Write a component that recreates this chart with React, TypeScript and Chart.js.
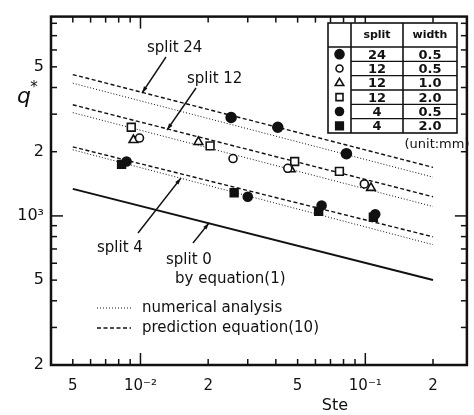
import React, { useEffect, useRef } from 'react';
import { Chart, registerables } from 'chart.js';

Chart.register(...registerables);

// ---- data ----
const lineSte = [0.005, 0.2];
const split24Prediction = [4600, 1690];
const split24Numerical = [4190, 1520];
const split12Prediction = [3320, 1230];
const split12Numerical = [3050, 1107];
const split4Prediction = [2108, 798];
const split4Numerical = [2042, 733];
const split0Equation1 = [1339, 501];

const s24w05Ste = [0.0253, 0.0408, 0.0824];
const s24w05Q = [2894, 2604, 1958];
const s12w05Ste = [0.0099, 0.0258, 0.0452, 0.099];
const s12w05Q = [2318, 1858, 1672, 1412];
const s12w10Ste = [0.0093, 0.0181, 0.0466, 0.106];
const s12w10Q = [2270, 2222, 1654, 1353];
const s12w20Ste = [0.0091, 0.0204, 0.0485, 0.0767];
const s12w20Q = [2604, 2130, 1800, 1618];
const s4w05Ste = [0.00867, 0.03, 0.0639, 0.1107];
const s4w05Q = [1800, 1230, 1119, 1017];
const s4w20Ste = [0.00824, 0.0261, 0.062, 0.1086];
const s4w20Q = [1744, 1284, 1050, 986];

const xTickValues = [0.004, 0.005, 0.006, 0.007, 0.008, 0.009, 0.01, 0.02, 0.03, 0.04, 0.05, 0.06, 0.07, 0.08, 0.09, 0.1, 0.2];
const xTickLabelValues = [0.005, 0.01, 0.02, 0.05, 0.1, 0.2];
const xTickLabels = ['5', '10\u207B\u00B2', '2', '5', '10\u207B\u00B9', '2'];
const yTickValues = [200, 300, 400, 500, 600, 700, 800, 900, 1000, 2000, 3000, 4000, 5000, 6000, 7000, 8000];
const yTickLabelValues = [200, 500, 1000, 2000, 5000];
const yTickLabels = ['2', '5', '10\u00B3', '2', '5'];
const decadeValues = [0.01, 0.1, 1000];

const tableSplit = ['24', '12', '12', '12', '4', '4'];
const tableWidth = ['0.5', '0.5', '1.0', '2.0', '0.5', '2.0'];

const INK = '#111';
const FONT = '"DejaVu Sans", sans-serif';

const near = (a: number, b: number) => Math.abs(a - b) / b < 1e-6;
const labelFor = (v: number, vals: number[], labels: string[]) => {
  const i = vals.findIndex((w) => near(v, w));
  return i >= 0 ? labels[i] : '';
};

const mkLine = (ys: number[], dash: number[], width: number) => ({
  type: 'line' as const,
  data: lineSte.map((x, i) => ({ x, y: ys[i] })),
  borderColor: INK,
  borderWidth: width,
  borderDash: dash,
  pointRadius: 0,
  showLine: true,
  fill: false,
  tension: 0,
});

const mkPts = (xs: number[], ys: number[], style: string, radius: number, fill: string) => ({
  type: 'scatter' as const,
  data: xs.map((x, i) => ({ x, y: ys[i] })),
  pointStyle: style,
  pointRadius: radius,
  pointBackgroundColor: fill,
  pointBorderColor: INK,
  pointBorderWidth: 1.6,
  showLine: false,
});

function drawSymbol(ctx: CanvasRenderingContext2D, kind: string, x: number, y: number, r: number, fill: string) {
  ctx.save();
  ctx.fillStyle = fill;
  ctx.strokeStyle = INK;
  ctx.lineWidth = 1.6;
  ctx.beginPath();
  if (kind === 'circle') {
    ctx.arc(x, y, r, 0, Math.PI * 2);
  } else if (kind === 'triangle') {
    ctx.moveTo(x, y - r);
    ctx.lineTo(x + r * 0.95, y + r * 0.6);
    ctx.lineTo(x - r * 0.95, y + r * 0.6);
    ctx.closePath();
  } else {
    ctx.rect(x - r, y - r, 2 * r, 2 * r);
  }
  ctx.fill();
  ctx.stroke();
  ctx.restore();
}

function arrow(ctx: CanvasRenderingContext2D, x1: number, y1: number, x2: number, y2: number) {
  const head = 7;
  ctx.beginPath();
  ctx.moveTo(x1, y1);
  ctx.lineTo(x2, y2);
  ctx.stroke();
  const ang = Math.atan2(y2 - y1, x2 - x1);
  ctx.beginPath();
  ctx.moveTo(x2, y2);
  ctx.lineTo(x2 - head * Math.cos(ang - 0.3), y2 - head * Math.sin(ang - 0.3));
  ctx.lineTo(x2 - head * Math.cos(ang + 0.3), y2 - head * Math.sin(ang + 0.3));
  ctx.closePath();
  ctx.fill();
}

const framePlugin = {
  id: 'frame',
  afterDatasetsDraw(chart: any) {
    const { ctx, chartArea: a, scales } = chart;
    const xs = scales.x;
    const ys = scales.y;
    ctx.save();
    ctx.strokeStyle = INK;
    ctx.fillStyle = INK;
    ctx.setLineDash([]);
    // ticks (inward, all four sides)
    ctx.lineWidth = 1.5;
    const seg = (x1: number, y1: number, x2: number, y2: number) => {
      ctx.beginPath();
      ctx.moveTo(x1, y1);
      ctx.lineTo(x2, y2);
      ctx.stroke();
    };
    xTickValues.forEach((v) => {
      const px = xs.getPixelForValue(v);
      const len = decadeValues.some((d) => near(v, d)) ? 12 : 6;
      seg(px, a.bottom, px, a.bottom - len);
      seg(px, a.top, px, a.top + len);
    });
    yTickValues.forEach((v) => {
      const py = ys.getPixelForValue(v);
      const len = decadeValues.some((d) => near(v, d)) ? 12 : 6;
      seg(a.left, py, a.left + len, py);
      seg(a.right, py, a.right - len, py);
    });
    // frame
    ctx.lineWidth = 2.5;
    ctx.strokeRect(a.left, a.top, a.right - a.left, a.bottom - a.top);

    // axis titles
    ctx.textAlign = 'center';
    ctx.textBaseline = 'middle';
    ctx.font = 'italic 22px ' + FONT;
    ctx.fillText('q', 24, 97);
    ctx.font = '15px ' + FONT;
    ctx.fillText('*', 34, 88);
    ctx.font = '16px ' + FONT;
    ctx.fillText('Ste', 335, 406);

    // annotations
    ctx.lineWidth = 1.4;
    ctx.font = '15px ' + FONT;
    ctx.textAlign = 'left';
    ctx.fillText('split 24', 147, 48);
    arrow(ctx, 166, 57, 142, 93);
    ctx.fillText('split 12', 187, 79);
    arrow(ctx, 196, 88, 167, 130);
    ctx.fillText('split 4', 97, 248);
    arrow(ctx, 138, 233, 181, 178);
    ctx.fillText('split 0', 166, 260);
    ctx.fillText('by equation(1)', 175, 279);
    arrow(ctx, 193, 243, 209, 223);

    // legend
    ctx.lineWidth = 1;
    ctx.setLineDash([1, 2]);
    seg(97, 308, 131, 308);
    ctx.lineWidth = 1.4;
    ctx.setLineDash([4, 2.5]);
    seg(97, 328, 131, 328);
    ctx.setLineDash([]);
    ctx.fillText('numerical analysis', 142, 308);
    ctx.fillText('prediction equation(10)', 142, 328);

    // table
    const tl = 328, tr = 457, tt = 23, tb = 133;
    const c1 = 351, c2 = 403, hb = 47;
    ctx.fillStyle = '#fff';
    ctx.fillRect(tl, tt, tr - tl, tb - tt);
    ctx.fillStyle = INK;
    ctx.lineWidth = 1.6;
    ctx.strokeRect(tl, tt, tr - tl, tb - tt);
    seg(c1, tt, c1, tb);
    seg(c2, tt, c2, tb);
    seg(tl, hb, tr, hb);
    const rowH = (tb - hb) / 6;
    ctx.lineWidth = 1.3;
    for (let i = 1; i < 6; i++) seg(c1, hb + rowH * i, tr, hb + rowH * i);
    ctx.textAlign = 'center';
    ctx.font = 'bold 11px ' + FONT;
    ctx.fillText('split', (c1 + c2) / 2, (tt + hb) / 2);
    ctx.fillText('width', (c2 + tr) / 2, (tt + hb) / 2);
    ctx.font = 'bold 13px ' + FONT;
    const kinds = [
      ['circle', 4.5, INK],
      ['circle', 3.5, '#fff'],
      ['triangle', 4.5, '#fff'],
      ['rect', 3.5, '#fff'],
      ['circle', 4, INK],
      ['rect', 3.8, INK],
    ];
    for (let i = 0; i < 6; i++) {
      const cy = hb + rowH * (i + 0.5);
      ctx.fillText(tableSplit[i], (c1 + c2) / 2, cy + 1);
      ctx.fillText(tableWidth[i], (c2 + tr) / 2, cy + 1);
      const k = kinds[i];
      drawSymbol(ctx, k[0] as string, (tl + c1) / 2, cy, k[1] as number, k[2] as string);
    }
    ctx.fillStyle = INK;
    ctx.font = '13px ' + FONT;
    ctx.fillText('(unit:mm)', 437, 145);
    ctx.restore();
  },
};

export default function App() {
  const ref = useRef<HTMLCanvasElement | null>(null);
  useEffect(() => {
    if (!ref.current) return;
    const chart = new Chart(ref.current, {
      type: 'scatter',
      data: {
        datasets: [
          mkPts(s24w05Ste, s24w05Q, 'circle', 5, INK),
          mkPts(s12w05Ste, s12w05Q, 'circle', 4, '#fff'),
          mkPts(s12w10Ste, s12w10Q, 'triangle', 5, '#fff'),
          mkPts(s12w20Ste, s12w20Q, 'rect', 5.5, '#fff'),
          mkPts(s4w05Ste, s4w05Q, 'circle', 4.5, INK),
          mkPts(s4w20Ste, s4w20Q, 'rect', 5.5, INK),
          mkLine(split24Prediction, [4, 2.5], 1.4),
          mkLine(split24Numerical, [1, 2], 1),
          mkLine(split12Prediction, [4, 2.5], 1.4),
          mkLine(split12Numerical, [1, 2], 1),
          mkLine(split4Prediction, [4, 2.5], 1.4),
          mkLine(split4Numerical, [1, 2], 1),
          mkLine(split0Equation1, [], 2),
        ] as any,
      },
      options: {
        responsive: false,
        animation: false,
        devicePixelRatio: 1,
        events: [],
        layout: { padding: { top: 10, right: 6, left: 0, bottom: 0 } },
        plugins: { legend: { display: false }, tooltip: { enabled: false }, title: { display: false } },
        scales: {
          x: {
            type: 'logarithmic',
            min: 0.004,
            max: 0.283,
            afterBuildTicks: (s: any) => {
              s.ticks = xTickValues.map((v) => ({ value: v }));
            },
            afterFit: (s: any) => {
              s.height = 50;
            },
            ticks: {
              autoSkip: false,
              maxRotation: 0,
              minRotation: 0,
              padding: 12,
              color: INK,
              font: { family: FONT, size: 15 },
              callback: (v: any) => labelFor(Number(v), xTickLabelValues, xTickLabels),
            },
            grid: { display: false, drawTicks: false },
            border: { display: false },
          },
          y: {
            type: 'logarithmic',
            min: 200,
            max: 8600,
            afterBuildTicks: (s: any) => {
              s.ticks = yTickValues.map((v) => ({ value: v }));
            },
            afterFit: (s: any) => {
              s.width = 51;
            },
            ticks: {
              autoSkip: false,
              padding: 7,
              color: INK,
              font: { family: FONT, size: 16 },
              callback: (v: any) => labelFor(Number(v), yTickLabelValues, yTickLabels),
            },
            grid: { display: false, drawTicks: false },
            border: { display: false },
          },
        },
      } as any,
      plugins: [framePlugin],
    });
    return () => chart.destroy();
  }, []);
  return (
    <div style={{ position: 'absolute', left: 0, top: 0, width: 474, height: 415, background: '#fff' }}>
      <canvas ref={ref} width={474} height={415} style={{ display: 'block' }} />
    </div>
  );
}
